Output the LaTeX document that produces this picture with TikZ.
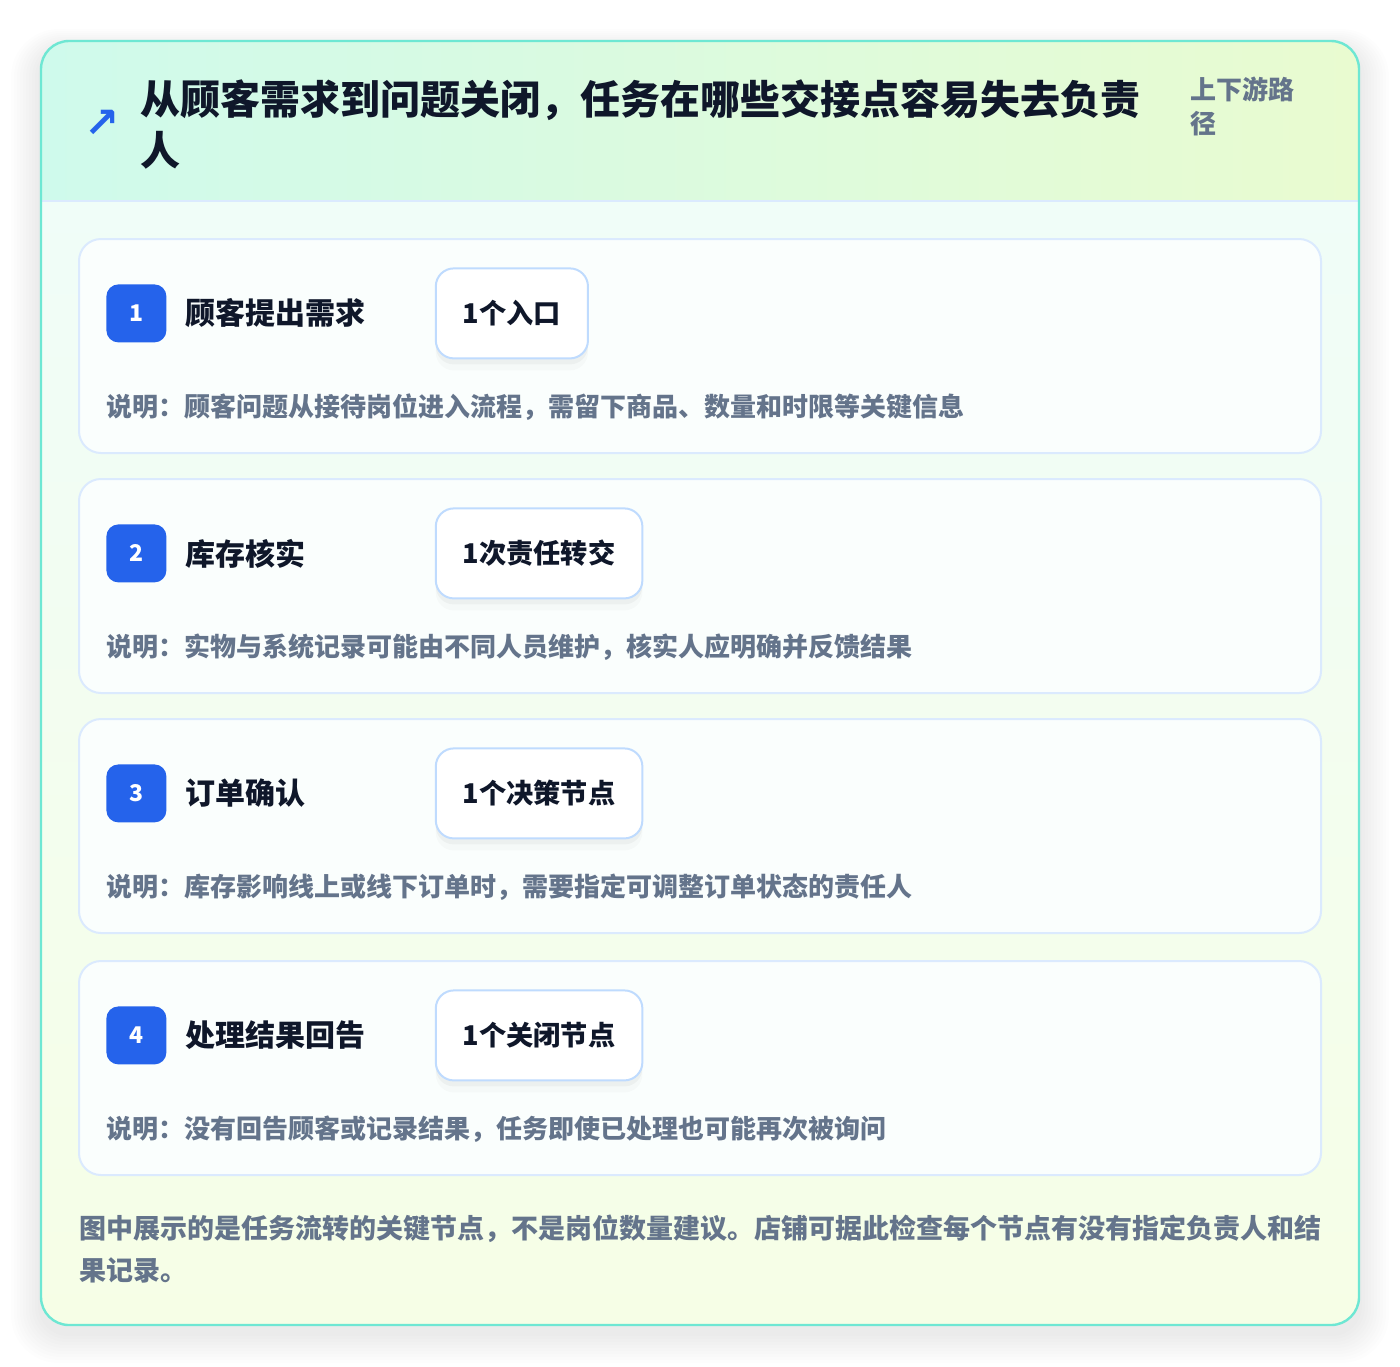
\documentclass[tikz,border=0pt]{standalone}
\usepackage{fontspec}
\setmainfont{Noto Sans CJK SC}
\newfontfamily\symfont{DejaVu Sans}
\usetikzlibrary{positioning}

\definecolor{cardline}{HTML}{6EE7D3}
\definecolor{headleft}{HTML}{CFFAEC}
\definecolor{headright}{HTML}{E9FBD0}
\definecolor{bodytop}{HTML}{F0FDF8}
\definecolor{bodybottom}{HTML}{F6FEE6}
\definecolor{stepline}{HTML}{DBEAFE}
\definecolor{tagline}{HTML}{BFDBFE}
\definecolor{badgeblue}{HTML}{2563EB}
\definecolor{inktext}{HTML}{0F172A}
\definecolor{mutetext}{HTML}{64748B}

\tikzset{
	stepcard/.style={draw=stepline, line width=1pt, fill=white!70!bodytop, rounded corners=11pt, minimum width=621pt, minimum height=107pt, inner sep=0pt, outer sep=0pt},
	badge/.style={fill=badgeblue, rounded corners=6pt, minimum width=30pt, minimum height=29pt, inner sep=0pt, text=white, font=\fontsize{11.5}{13}\selectfont\bfseries, anchor=north west},
	steptitle/.style={inner sep=0pt, text=inktext, font=\fontsize{15}{18}\selectfont\bfseries},
	tagbox/.style={draw=tagline, line width=1pt, fill=white, rounded corners=9pt, minimum height=45pt, inner xsep=13.5pt, inner ysep=0pt, outer sep=0pt, text=inktext, font=\fontsize{13.6}{16}\selectfont\bfseries,
		preaction={fill=black, draw=none, opacity=0.035, transform canvas={yshift=-3pt}},
		preaction={fill=black, draw=none, opacity=0.02, transform canvas={yshift=-6pt}}},
	stepnote/.style={inner sep=0pt, anchor=west, text=mutetext, font=\fontsize{13}{15}\selectfont\bfseries}
}

\begin{document}
\begin{tikzpicture}[x=0.5pt, y=-0.5pt]
	\useasboundingbox (0,0) rectangle (1400,1366);
	\fill[white] (0,0) rectangle (1400,1366);
	
	\foreach \k in {1,...,10}
		\fill[black, opacity=0.007, rounded corners=14pt+\k pt] (41-3*\k,41-2*\k+8) rectangle (1359+3*\k,1325+3*\k+8);
	\fill[white, rounded corners=14pt] (41,41) rectangle (1359,1325);
	\begin{scope}
		\clip[rounded corners=14pt] (41,41) rectangle (1359,1325);
		\shade[top color=bodytop, bottom color=bodybottom] (41,201) rectangle (1359,1325);
		\shade[left color=headleft, right color=headright] (41,41) rectangle (1359,201);
	\end{scope}
	\draw[stepline, line width=1pt] (41,201) -- (1359,201);
	\draw[cardline, line width=1.2pt, rounded corners=14pt] (41,41) rectangle (1359,1325);
	
	\node[inner sep=0pt, text=badgeblue, font=\symfont\bfseries\fontsize{21}{21}\selectfont] (icon) at (102,124) {↗};
	\node[inner sep=0pt, anchor=west, align=left, text=inktext, font=\fontsize{20}{25.5}\selectfont\bfseries] (title) at (140,124.5) {从顾客需求到问题关闭，任务在哪些交接点容易失去负责\\人};
	\node[inner sep=0pt, anchor=west, align=left, text=mutetext, font=\fontsize{13}{17}\selectfont\bfseries] (scope) at (1190,106) {上下游路\\径};
	
	\node[stepcard, anchor=north west] (card1) at (79,239) {};
	\node[badge, below right=22.5pt and 13.5pt of card1.north west] (badge1) {1};
	\node[steptitle, right=9pt of badge1] (name1) {顾客提出需求};
	\node[tagbox, right=134.5pt of badge1] (tag1) {1个入口};
	\node[stepnote] (note1) at ([yshift=-47pt]badge1.west) {说明：顾客问题从接待岗位进入流程，需留下商品、数量和时限等关键信息};
	
	\node[stepcard, below=13pt of card1] (card2) {};
	\node[badge, below right=22.5pt and 13.5pt of card2.north west] (badge2) {2};
	\node[steptitle, right=9pt of badge2] (name2) {库存核实};
	\node[tagbox, right=134.5pt of badge2] (tag2) {1次责任转交};
	\node[stepnote] (note2) at ([yshift=-47pt]badge2.west) {说明：实物与系统记录可能由不同人员维护，核实人应明确并反馈结果};
	
	\node[stepcard, below=13pt of card2] (card3) {};
	\node[badge, below right=22.5pt and 13.5pt of card3.north west] (badge3) {3};
	\node[steptitle, right=9pt of badge3] (name3) {订单确认};
	\node[tagbox, right=134.5pt of badge3] (tag3) {1个决策节点};
	\node[stepnote] (note3) at ([yshift=-47pt]badge3.west) {说明：库存影响线上或线下订单时，需要指定可调整订单状态的责任人};
	
	\node[stepcard, below=14pt of card3] (card4) {};
	\node[badge, below right=22.5pt and 13.5pt of card4.north west] (badge4) {4};
	\node[steptitle, right=9pt of badge4] (name4) {处理结果回告};
	\node[tagbox, right=134.5pt of badge4] (tag4) {1个关闭节点};
	\node[stepnote] (note4) at ([yshift=-47pt]badge4.west) {说明：没有回告顾客或记录结果，任务即使已处理也可能再次被询问};
	
	\node[inner sep=0pt, anchor=west, align=left, text=mutetext, font=\fontsize{13.5}{21}\selectfont\bfseries] (footer) at (79,1249) {图中展示的是任务流转的关键节点，不是岗位数量建议。店铺可据此检查每个节点有没有指定负责人和结\\果记录。};
\end{tikzpicture}
\end{document}
